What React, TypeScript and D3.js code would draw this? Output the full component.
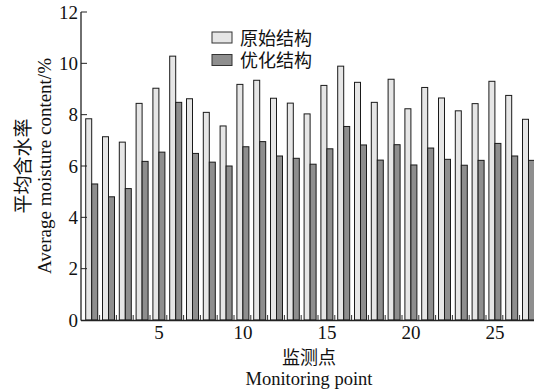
import { useEffect, useRef } from 'react';
import * as d3 from 'd3';

// monitoring points 1..27
const points = d3.range(1, 28).map(String);

// 原始结构 (original structure)
const original = [
  7.84, 7.14, 6.93, 8.44, 9.03, 10.28, 8.62, 8.09, 7.56, 9.18,
  9.34, 8.64, 8.45, 8.03, 9.14, 9.89, 9.26, 8.48, 9.38, 8.23,
  9.06, 8.65, 8.15, 8.43, 9.3, 8.75, 7.82
];

// 优化结构 (optimized structure)
const optimized = [
  5.3, 4.8, 5.12, 6.18, 6.54, 8.48, 6.49, 6.15, 6.0, 6.75,
  6.95, 6.39, 6.3, 6.07, 6.67, 7.54, 6.82, 6.23, 6.83, 6.04,
  6.7, 6.26, 6.03, 6.22, 6.88, 6.39, 6.22
];

const seriesNames = ['原始结构', '优化结构'];
const seriesColors = ['#e6e6e6', '#8e8e8e'];
const yTicks = [0, 2, 4, 6, 8, 10, 12];
const xTickLabels = ['5', '10', '15', '20', '25'];

const serif = '"Liberation Serif", "DejaVu Serif", serif';
const cjk = '"Noto Sans CJK SC", sans-serif';

export default function App() {
  const svgRef = useRef<SVGSVGElement>(null);

  useEffect(() => {
    const width = 534;
    const height = 392;
    const svg = d3.select(svgRef.current);
    svg.selectAll('*').remove();
    svg.attr('width', width).attr('height', height);

    const axisX = 81;
    const baseY = 320;

    const x = d3.scaleBand<string>()
      .domain(points)
      .range([83.3, 83.3 + 27 * 16.8]);

    const xInner = d3.scaleBand<string>()
      .domain(['o', 'p'])
      .range([0, x.bandwidth()])
      .paddingOuter(0.4);

    const y = d3.scaleLinear().domain([0, 12]).range([baseY, 12]);

    // small ticks along the bottom, between monitoring points
    svg.append('g')
      .selectAll('line')
      .data(points.slice(1))
      .enter().append('line')
      .attr('x1', d => (x(d) as number) - 0.5)
      .attr('x2', d => (x(d) as number) - 0.5)
      .attr('y1', baseY)
      .attr('y2', baseY - 5)
      .attr('stroke', '#333')
      .attr('stroke-width', 1);

    // bars
    const groups = svg.append('g')
      .selectAll('g')
      .data(points)
      .enter().append('g')
      .attr('transform', d => `translate(${x(d)},0)`);

    groups.append('rect')
      .attr('x', () => xInner('o') as number)
      .attr('width', xInner.bandwidth())
      .attr('y', (d, i) => y(original[i]))
      .attr('height', (d, i) => baseY - y(original[i]))
      .attr('fill', seriesColors[0])
      .attr('stroke', '#1a1a1a')
      .attr('stroke-width', 1);

    groups.append('rect')
      .attr('x', () => xInner('p') as number)
      .attr('width', xInner.bandwidth())
      .attr('y', (d, i) => y(optimized[i]))
      .attr('height', (d, i) => baseY - y(optimized[i]))
      .attr('fill', seriesColors[1])
      .attr('stroke', '#1a1a1a')
      .attr('stroke-width', 1);

    // axes lines
    svg.append('line')
      .attr('x1', axisX).attr('x2', axisX)
      .attr('y1', y(12)).attr('y2', baseY + 0.5)
      .attr('stroke', '#222').attr('stroke-width', 1.3);
    svg.append('line')
      .attr('x1', axisX).attr('x2', width)
      .attr('y1', baseY + 0.5).attr('y2', baseY + 0.5)
      .attr('stroke', '#222').attr('stroke-width', 1.3);

    // y ticks (inward) and labels
    const yt = svg.append('g');
    yt.selectAll('line')
      .data(yTicks.slice(1))
      .enter().append('line')
      .attr('x1', axisX).attr('x2', axisX + 6)
      .attr('y1', d => y(d)).attr('y2', d => y(d))
      .attr('stroke', '#222').attr('stroke-width', 1);
    yt.selectAll('text')
      .data(yTicks)
      .enter().append('text')
      .attr('x', 78)
      .attr('y', d => y(d))
      .attr('dy', '0.35em')
      .attr('text-anchor', 'end')
      .style('font-family', serif)
      .style('font-size', '19px')
      .attr('fill', '#111')
      .text(d => d);

    // x tick labels
    svg.append('g')
      .selectAll('text')
      .data(xTickLabels)
      .enter().append('text')
      .attr('x', d => (x(d) as number) + x.bandwidth() / 2)
      .attr('y', 339)
      .attr('text-anchor', 'middle')
      .style('font-family', serif)
      .style('font-size', '19px')
      .attr('fill', '#111')
      .text(d => d);

    // axis titles
    svg.append('text')
      .attr('x', 309).attr('y', 364)
      .attr('text-anchor', 'middle')
      .style('font-family', cjk)
      .style('font-size', '18px')
      .attr('fill', '#111')
      .text('监测点');
    svg.append('text')
      .attr('x', 309).attr('y', 385)
      .attr('text-anchor', 'middle')
      .style('font-family', serif)
      .style('font-size', '18.5px')
      .attr('fill', '#111')
      .text('Monitoring point');

    svg.append('text')
      .attr('transform', 'translate(30,166) rotate(-90)')
      .attr('text-anchor', 'middle')
      .style('font-family', cjk)
      .style('font-size', '19px')
      .attr('fill', '#111')
      .text('平均含水率');
    svg.append('text')
      .attr('transform', 'translate(51,166) rotate(-90)')
      .attr('text-anchor', 'middle')
      .style('font-family', serif)
      .style('font-size', '19px')
      .attr('fill', '#111')
      .text('Average moisture content/%');

    // legend
    const legend = svg.append('g').attr('transform', 'translate(212,32)');
    seriesNames.forEach((name, i) => {
      const item = legend.append('g').attr('transform', `translate(0,${i * 22.5})`);
      item.append('rect')
        .attr('width', 20)
        .attr('height', 11)
        .attr('fill', seriesColors[i])
        .attr('stroke', '#333')
        .attr('stroke-width', 1);
      item.append('text')
        .attr('x', 28)
        .attr('y', 12.5)
        .style('font-family', cjk)
        .style('font-size', '18px')
        .attr('fill', '#111')
        .text(name);
    });
  }, []);

  return (
    <div style={{ position: 'absolute', left: 0, top: 0, background: '#fff' }}>
      <svg ref={svgRef} style={{ display: 'block' }}></svg>
    </div>
  );
}
